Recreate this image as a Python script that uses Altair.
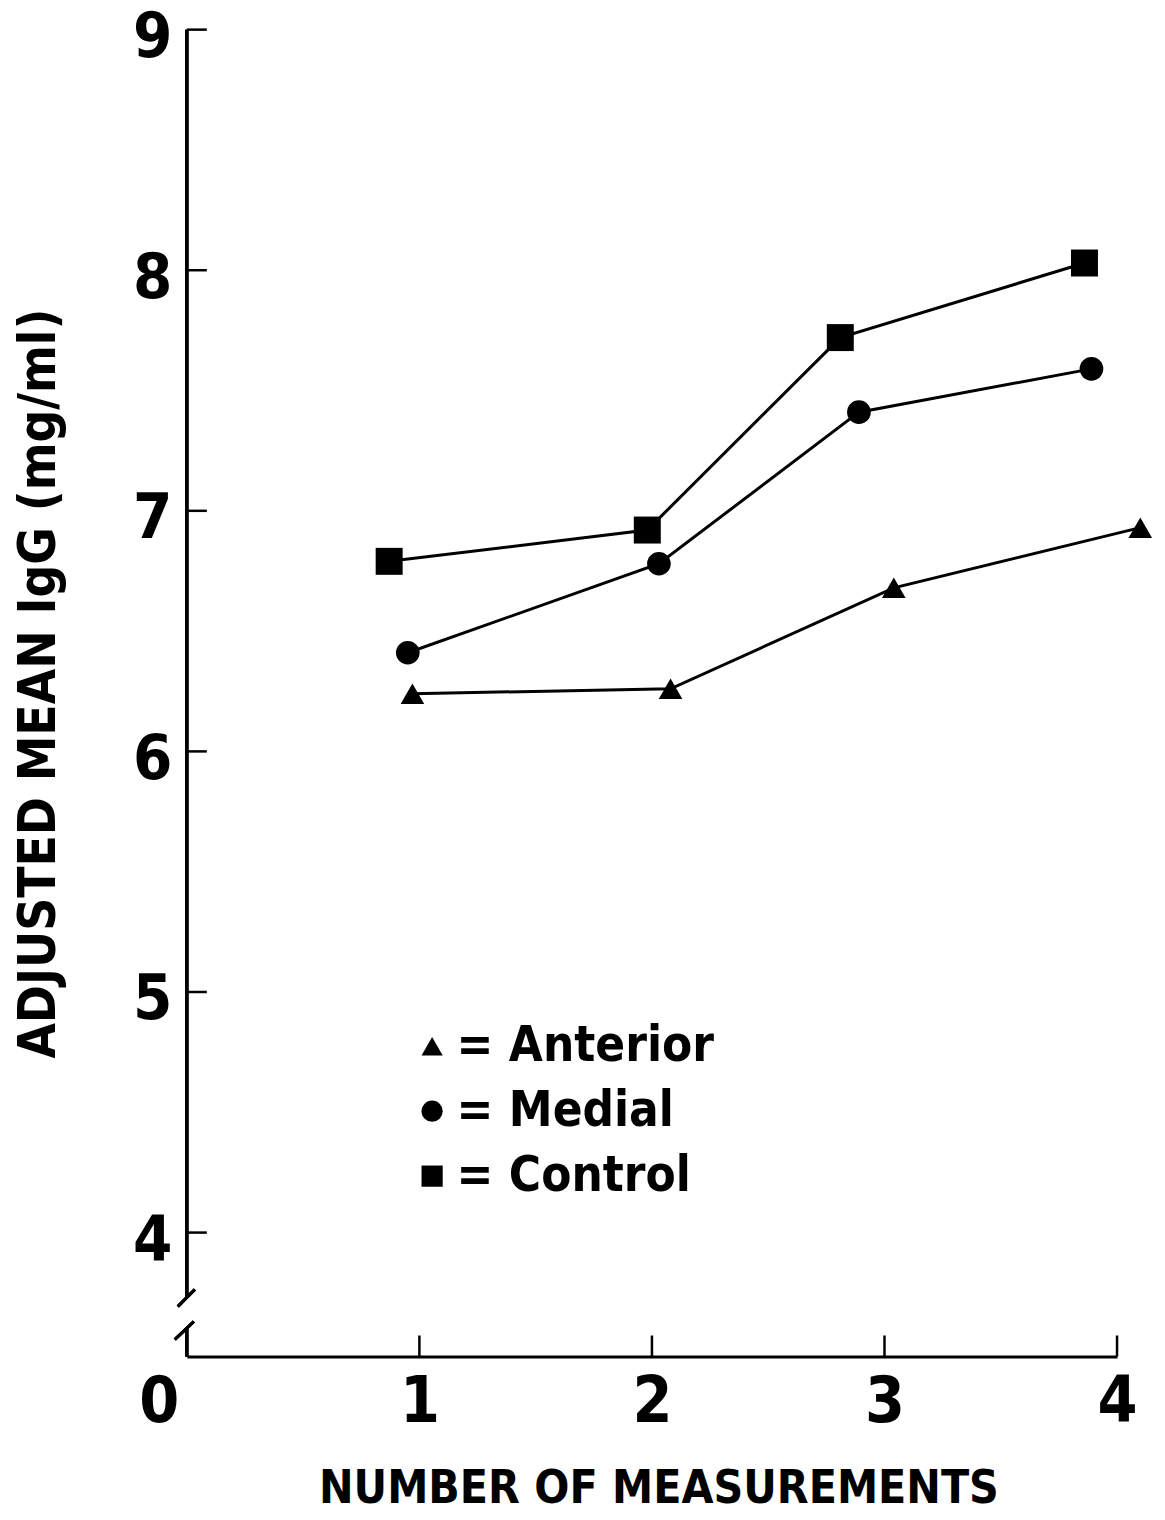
import altair as alt
import pandas as pd

# ---- data (x values carry the plotted offsets) ----
series_names = ["Anterior", "Medial", "Control"]
anterior_x = [0.97, 2.08, 3.04, 4.10]
anterior_y = [6.24, 6.26, 6.68, 6.93]
medial_x = [0.95, 2.03, 2.89, 3.89]
medial_y = [6.41, 6.78, 7.41, 7.59]
control_x = [0.87, 1.98, 2.81, 3.86]
control_y = [6.79, 6.92, 7.72, 8.03]

x_ticks = [0, 1, 2, 3, 4]
y_ticks = [4, 5, 6, 7, 8, 9]
y_title = "ADJUSTED MEAN IgG (mg/ml)"
x_title = "NUMBER OF MEASUREMENTS"

rows = []
for name, xs, ys in [("Anterior", anterior_x, anterior_y),
                     ("Medial", medial_x, medial_y),
                     ("Control", control_x, control_y)]:
    for xv, yv in zip(xs, ys):
        rows.append({"series": name, "x": xv, "y": yv})
df = pd.DataFrame(rows)

FONT = "Liberation Sans Narrow, DejaVu Sans Condensed, Roboto, sans-serif"
W, H = 931, 1328
Y_LO = 3.485

xscale = alt.Scale(domain=[0, 4], nice=False, zero=False)
yscale = alt.Scale(domain=[Y_LO, 9], nice=False, zero=False)

x_axis = alt.Axis(
    values=x_ticks, format="d", title=x_title, grid=False, ticks=False, tickSize=0,
    domain=True, domainColor="black", domainWidth=3,
    labelFont=FONT, labelFontSize=64, labelFontWeight="bold", labelColor="black",
    labelPadding=14, labelBaseline="top", labelFlush=False,
    labelOffset={"condition": {"test": "datum.value == 0", "value": -28}, "value": 0},
    titleFont=FONT, titleFontSize=46, titleFontWeight="bold", titleColor="black",
    titleX=472, titleY=146, titleAlign="center", titleBaseline="alphabetic",
)
y_axis = alt.Axis(
    values=y_ticks, format="d", title=y_title, grid=False, ticks=False, tickSize=0,
    domain=False,
    labelFont=FONT, labelFontSize=63, labelFontWeight="bold", labelColor="black",
    labelPadding=15, labelBaseline="middle", labelOffset=8, labelFlush=False,
    titleFont=FONT, titleFontSize=51, titleFontWeight="bold", titleColor="black",
    titleX=-147, titleY=654, titleAlign="center", titleBaseline="middle", titleAngle=-90,
)

base = alt.Chart(df)

lines = base.mark_line(color="black", strokeWidth=3).encode(
    x=alt.X("x:Q", scale=xscale, axis=x_axis),
    y=alt.Y("y:Q", scale=yscale, axis=y_axis),
    detail="series:N",
)

points = base.mark_point(filled=True, color="black", opacity=1).encode(
    x=alt.X("x:Q", scale=xscale),
    y=alt.Y("y:Q", scale=yscale),
    shape=alt.Shape(
        "series:N",
        scale=alt.Scale(domain=series_names, range=["triangle-up", "circle", "square"]),
        legend=alt.Legend(
            orient="none", legendX=221, legendY=993, title=None,
            symbolSize=450, symbolFillColor="black", symbolStrokeColor="black",
            symbolStrokeWidth=0, labelExpr="'= ' + datum.label",
            labelFont=FONT, labelFontSize=49, labelFontWeight="bold", labelColor="black",
            labelOffset=0, labelLimit=0, rowPadding=15, padding=0,
        ),
    ),
    size=alt.condition(alt.datum.series == "Control", alt.value(729),
                       alt.value(560)),
)

# inward ticks
xtick_df = pd.DataFrame({"t": x_ticks[1:]})
ytick_df = pd.DataFrame({"t": y_ticks})
xticks = alt.Chart(xtick_df).mark_rule(color="black", strokeWidth=2.5).encode(
    x=alt.X("t:Q", scale=xscale), y=alt.value(H), y2=alt.value(H - 21)
)
yticks = alt.Chart(ytick_df).mark_rule(color="black", strokeWidth=2.5).encode(
    y=alt.Y("t:Q", scale=yscale), x=alt.value(0), x2=alt.value(20)
)

# broken y axis line with break marks
ax_up = alt.Chart(xtick_df).mark_rule(color="black", strokeWidth=3).encode(
    x=alt.value(0), y=alt.value(0), y2=alt.value(1269)
)
ax_low = alt.Chart(xtick_df).mark_rule(color="black", strokeWidth=3).encode(
    x=alt.value(0), y=alt.value(1300), y2=alt.value(H)
)
slash1 = alt.Chart(xtick_df).mark_rule(color="black", strokeWidth=3).encode(
    x=alt.value(-9), y=alt.value(1278), x2=alt.value(8), y2=alt.value(1261)
)
slash2 = alt.Chart(xtick_df).mark_rule(color="black", strokeWidth=3).encode(
    x=alt.value(-12), y=alt.value(1311), x2=alt.value(7), y2=alt.value(1293)
)

chart = alt.layer(
    lines, points, xticks, yticks, ax_up, ax_low, slash1, slash2
).properties(
    width=W, height=H,
    autosize=alt.AutoSizeParams(type="none"),
    padding={"left": 179, "top": 21, "right": 40, "bottom": 154},
    background="white",
).configure_view(stroke=None)

chart.save("out.html", embed_options={"renderer": "svg", "actions": False})
